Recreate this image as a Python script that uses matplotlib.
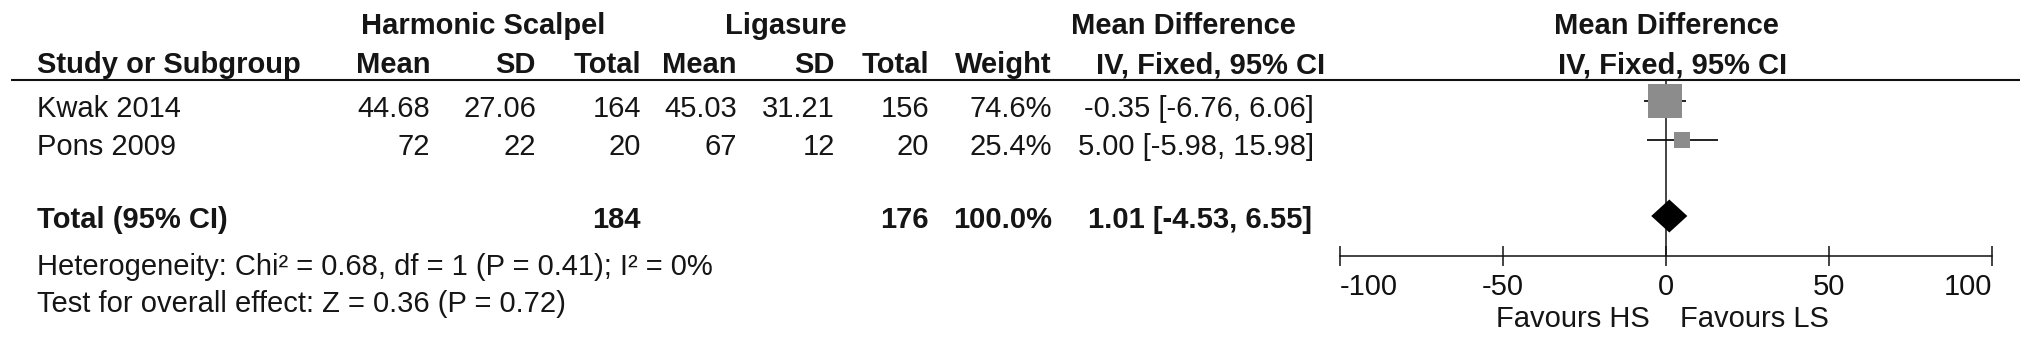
import matplotlib
matplotlib.use("Agg")
import matplotlib.pyplot as plt

# ---------------- data ----------------
studies = ["Kwak 2014", "Pons 2009"]
hs_mean = [44.68, 72]
hs_sd = [27.06, 22]
hs_total = [164, 20]
ls_mean = [45.03, 67]
ls_sd = [31.21, 12]
ls_total = [156, 20]
weights = [74.6, 25.4]
md = [-0.35, 5.00]
md_lo = [-6.76, -5.98]
md_hi = [6.06, 15.98]

total_hs = 184
total_ls = 176
total_weight = 100.0
total_md = 1.01
total_lo = -4.53
total_hi = 6.55

chi2 = 0.68
df_het = 1
p_het = 0.41
i2 = 0
z_val = 0.36
p_z = 0.72

xticks = [-100, -50, 0, 50, 100]
xtick_labels = ["-100", "-50", "0", "50", "100"]
fav_left = "Favours HS"
fav_right = "Favours LS"

# ---------------- layout ----------------
W, H = 2031, 340
FONT = "Liberation Sans"
FS = 21
TC = "#151515"

plt.rcParams["font.family"] = [FONT, "DejaVu Sans"]

fig = plt.figure(figsize=(W / 100, H / 100), dpi=100)
fig.patch.set_facecolor("white")

# table overlay in pixel coordinates (y downward)
tab = fig.add_axes([0, 0, 1, 1])
tab.set_xlim(0, W)
tab.set_ylim(H, 0)
tab.axis("off")

def txt(x, y, s, ha="left", bold=False):
    tab.text(x, y, s, ha=ha, va="baseline", fontsize=FS, color=TC,
             fontweight="bold" if bold else "normal", family=[FONT, "DejaVu Sans"])

# column right edges
x_name = 37
x_hs_mean, x_hs_sd, x_hs_tot = 430, 536, 641
x_ls_mean, x_ls_sd, x_ls_tot = 737, 835, 929
x_weight = 1052
x_ci = 1314

# baselines
y_h1, y_h2 = 34, 73
y_rows = [117, 155]
y_total = 228
y_het, y_test = 275, 312

# headers
txt(483, y_h1, "Harmonic Scalpel", ha="center", bold=True)
txt(786, y_h1, "Ligasure", ha="center", bold=True)
txt(1183, y_h1, "Mean Difference", ha="center", bold=True)
txt(1666, y_h1, "Mean Difference", ha="center", bold=True)

txt(x_name, y_h2, "Study or Subgroup", bold=True)
txt(x_hs_mean, y_h2, "Mean", ha="right", bold=True)
txt(x_hs_sd, y_h2, "SD", ha="right", bold=True)
txt(x_hs_tot, y_h2, "Total", ha="right", bold=True)
txt(x_ls_mean, y_h2, "Mean", ha="right", bold=True)
txt(x_ls_sd, y_h2, "SD", ha="right", bold=True)
txt(x_ls_tot, y_h2, "Total", ha="right", bold=True)
txt(x_weight, y_h2, "Weight", ha="right", bold=True)
txt(1211, y_h2, "IV, Fixed, 95% CI", ha="center", bold=True)
txt(1673, y_h2, "IV, Fixed, 95% CI", ha="center", bold=True)

# header rule
tab.plot([11, 2020], [80, 80], color="#111111", lw=1.5, solid_capstyle="butt")

# study rows
for i, name in enumerate(studies):
    y = y_rows[i]
    txt(x_name, y, name)
    txt(x_hs_mean, y, f"{hs_mean[i]:g}", ha="right")
    txt(x_hs_sd, y, f"{hs_sd[i]:g}", ha="right")
    txt(x_hs_tot, y, f"{hs_total[i]}", ha="right")
    txt(x_ls_mean, y, f"{ls_mean[i]:g}", ha="right")
    txt(x_ls_sd, y, f"{ls_sd[i]:g}", ha="right")
    txt(x_ls_tot, y, f"{ls_total[i]}", ha="right")
    txt(x_weight, y, f"{weights[i]:.1f}%", ha="right")
    txt(x_ci, y, f"{md[i]:.2f} [{md_lo[i]:.2f}, {md_hi[i]:.2f}]", ha="right")

# total row
txt(x_name, y_total, "Total (95% CI)", bold=True)
txt(x_hs_tot, y_total, f"{total_hs}", ha="right", bold=True)
txt(x_ls_tot, y_total, f"{total_ls}", ha="right", bold=True)
txt(x_weight, y_total, f"{total_weight:.1f}%", ha="right", bold=True)
txt(x_ci - 2, y_total, f"{total_md:.2f} [{total_lo:.2f}, {total_hi:.2f}]", ha="right", bold=True)

txt(x_name, y_het, f"Heterogeneity: Chi\u00b2 = {chi2:.2f}, df = {df_het} (P = {p_het:.2f}); I\u00b2 = {i2}%")
txt(x_name, y_test, f"Test for overall effect: Z = {z_val:.2f} (P = {p_z:.2f})")

# ---------------- forest plot ----------------
ax_l, ax_r = 1340, 1992
ax_top, ax_bot = 80, 256
ax = fig.add_axes([ax_l / W, (H - ax_bot) / H, (ax_r - ax_l) / W, (ax_bot - ax_top) / H])
ax.patch.set_visible(False)
ax.set_xlim(-100, 100)
ax.set_ylim(ax_bot, ax_top)
for s in ["top", "left", "right"]:
    ax.spines[s].set_visible(False)
ax.spines["bottom"].set_linewidth(1.1)
ax.spines["bottom"].set_color("#111111")
ax.set_yticks([])
ax.set_xticks(xticks, xtick_labels)
ax.tick_params(axis="x", direction="inout", length=14.4, width=1.1, pad=5,
               labelsize=FS, colors="#111111")
ticks = ax.xaxis.get_major_ticks()
ticks[0].label1.set_horizontalalignment("left")
ticks[-1].label1.set_horizontalalignment("right")

# zero line
ax.axvline(0, color="#111111", lw=1.1, zorder=1)

# study marks
mark_y = [101, 140]
sizes = [(34 * (w / weights[0]) ** 0.7 * 0.72) ** 2 for w in weights]
ax.hlines(mark_y, md_lo, md_hi, color="#111111", lw=1.3, zorder=2)
ax.scatter(md, mark_y, s=sizes, marker="s", color="#8c8c8c", linewidths=0, zorder=3, clip_on=False)

# diamond
dy = 216
hh = 16.5
ax.fill([total_lo, total_md, total_hi, total_md], [dy, dy - hh, dy, dy + hh],
        color="#000000", lw=0, zorder=3)

# favours labels
txt(1650, 327, fav_left, ha="right")
txt(1680, 327, fav_right, ha="left")

fig.savefig("out.png", dpi=100, facecolor="white")
